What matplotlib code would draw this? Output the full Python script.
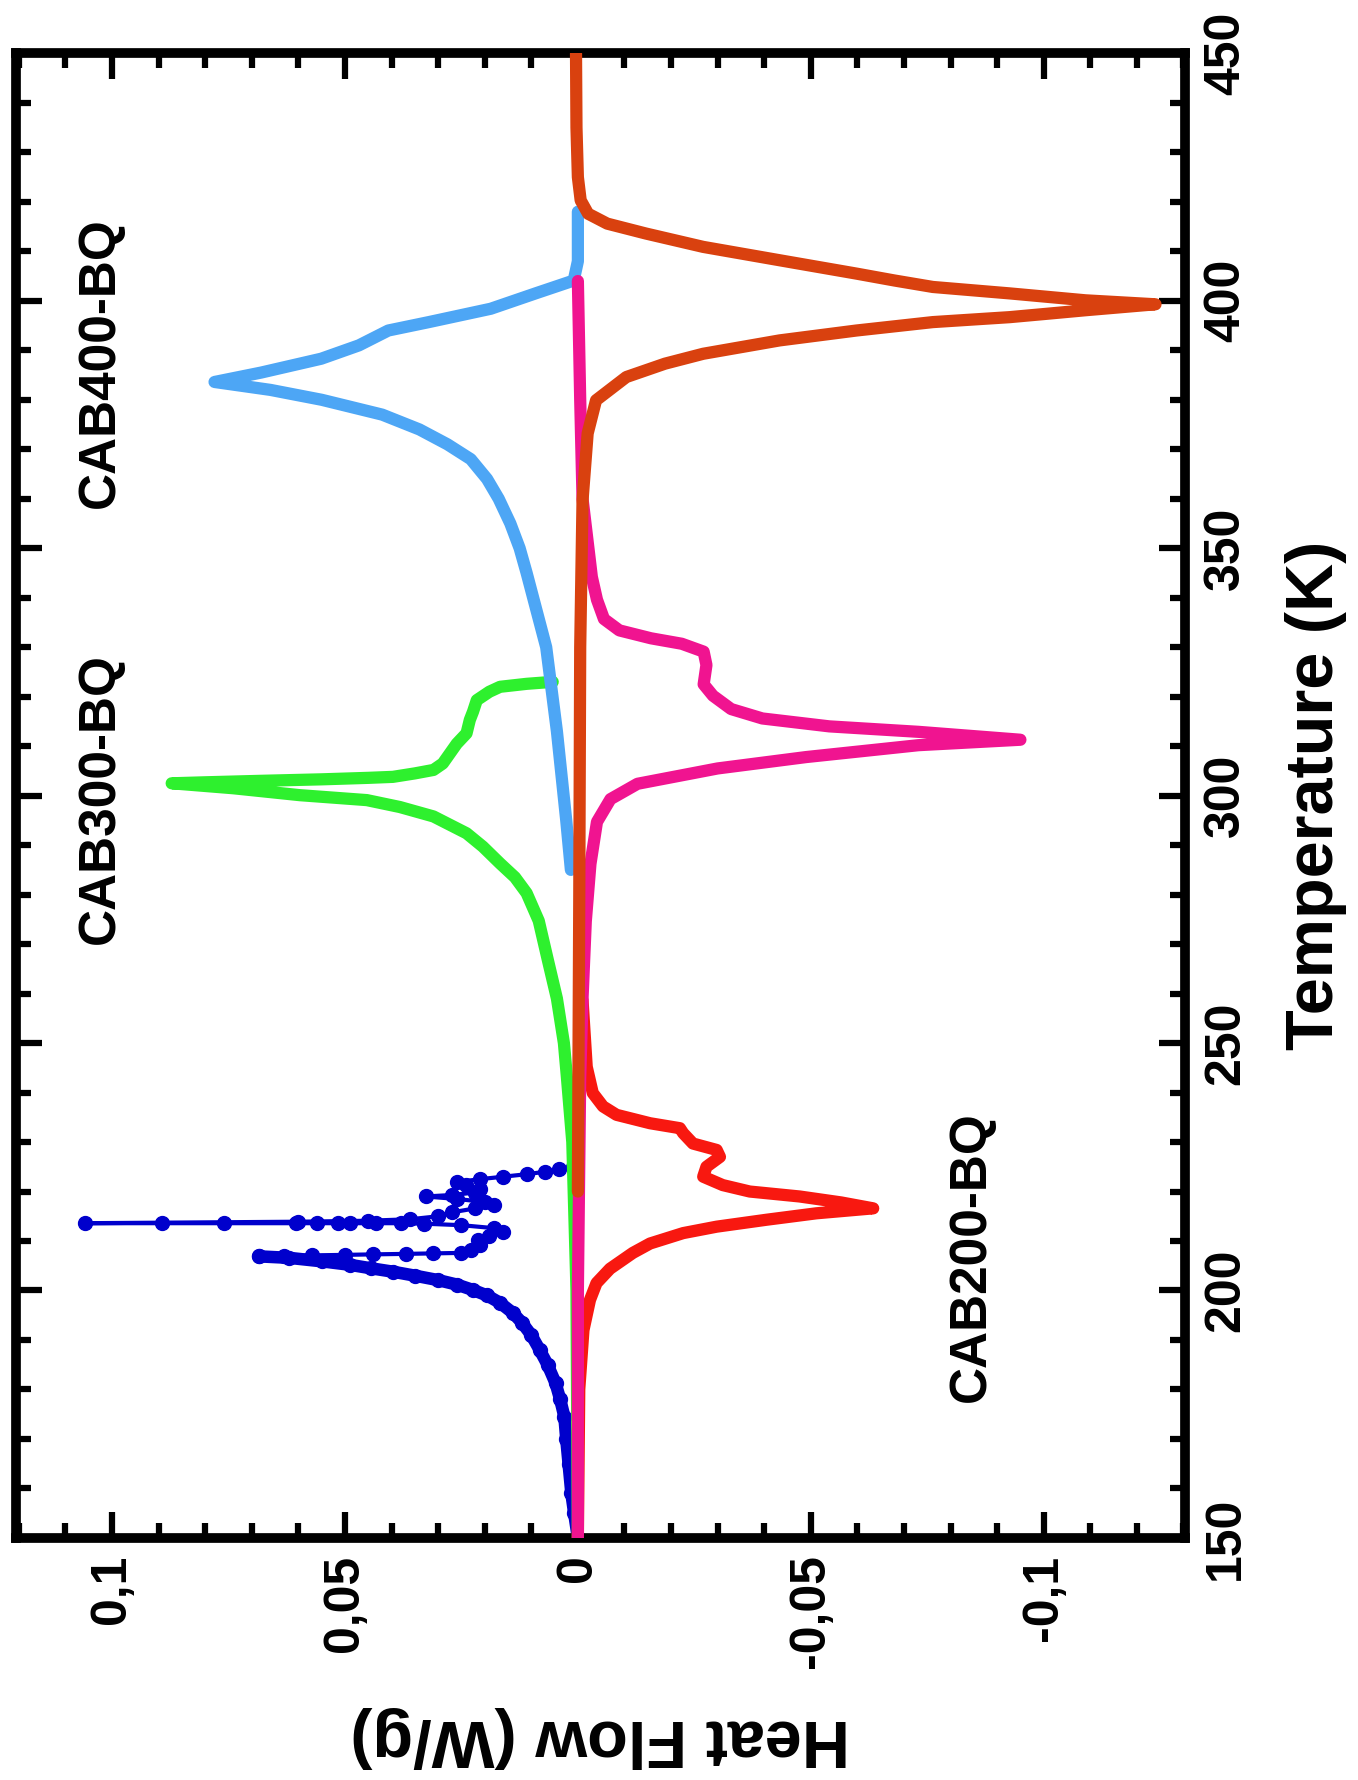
"""
DSC curves (heat flow vs temperature), drawn rotated like the original figure.
"""
import matplotlib

matplotlib.use("Agg")
import matplotlib.pyplot as plt
from matplotlib.ticker import MultipleLocator

plt.rcParams["font.family"] = ["Liberation Sans", "DejaVu Sans"]
plt.rcParams["font.weight"] = "bold"

# CAB200-BQ, heating (blue, smooth rise)
blue_rise_t = [150, 155, 159, 165, 170, 174.5, 178, 181.3, 185, 188, 191, 193.5,
               195.5, 197.5, 199, 200.1, 201.2, 202.1, 203, 203.8, 204.5, 205.2,
               205.9, 206.6, 206.9]
blue_rise_hf = [0.0, 0.0008, 0.0014, 0.002, 0.0025, 0.0029, 0.0038, 0.0048, 0.0065,
                0.0082, 0.010, 0.012, 0.014, 0.0167, 0.0195, 0.0225, 0.026, 0.030,
                0.035, 0.0397, 0.0445, 0.049, 0.055, 0.062, 0.0685]
# CAB200-BQ, heating (blue, noisy transition region)
blue_noise_t = [206.9, 207.0, 207.1, 207.2, 207.3, 207.4, 207.5, 207.6, 208.2, 209.2,
                210.2, 211.0, 211.8, 212.6, 213.2, 213.5, 213.6, 213.6, 213.6, 213.6,
                213.6, 213.6, 213.6, 213.6, 213.6, 213.9, 214.1, 214.4, 215.0, 215.8,
                216.6, 217.3, 217.9, 218.5, 219.0, 219.3, 219.8, 220.5, 221.3, 221.9,
                222.5, 223.0, 223.5, 224.0, 224.5, 225.0]
blue_noise_hf = [0.0685, 0.063, 0.057, 0.050, 0.044, 0.037, 0.031, 0.025, 0.023, 0.021,
                 0.0215, 0.019, 0.016, 0.018, 0.025, 0.033, 0.038, 0.0433, 0.049, 0.0516,
                 0.056, 0.0606, 0.076, 0.0893, 0.1058, 0.060, 0.045, 0.036, 0.030, 0.027,
                 0.022, 0.018, 0.020, 0.026, 0.0327, 0.027, 0.022, 0.021, 0.024, 0.026,
                 0.021, 0.016, 0.011, 0.007, 0.004, 0.0011]

# CAB200-BQ, cooling (red)
red_t = [150, 180, 192, 198.1, 201.5, 204.4, 207.6, 209.5, 211.6, 212.9, 214.3, 215.6,
         216.6, 217.8, 219, 220, 221.3, 223, 225, 227, 228.4, 229.7, 231.8, 232.8,
         233.8, 235.5, 237.2, 239.9, 245.2, 258.7]
red_hf = [0.0, -0.0003, -0.0012, -0.0026, -0.004, -0.0069, -0.0118, -0.0155, -0.0226,
          -0.0298, -0.0405, -0.0512, -0.0634, -0.0565, -0.0476, -0.0369, -0.0311,
          -0.0269, -0.0276, -0.0305, -0.0298, -0.0247, -0.0226, -0.0219, -0.0155,
          -0.0083, -0.0054, -0.0032, -0.0019, -0.001]

# CAB300-BQ, heating (green)
green_t = [150, 200, 230, 243.6, 250, 259, 267, 274.7, 280.3, 283.5, 286.3, 289.7,
           292.4, 295.8, 297.7, 299.1, 300.1, 301.5, 302.5, 302.7, 303.0, 303.3,
           303.6, 303.8, 304.5, 305.2, 306.5, 308.5, 310.5, 312.6, 315.3, 317, 319.3,
           321, 322, 322.6, 323]
green_hf = [0.0, 0.0003, 0.0012, 0.0024, 0.003, 0.0045, 0.0065, 0.0084, 0.011, 0.0135,
            0.0167, 0.0204, 0.0239, 0.031, 0.0382, 0.0453, 0.0597, 0.074, 0.0872, 0.080,
            0.068, 0.055, 0.045, 0.0397, 0.035, 0.031, 0.029, 0.0275, 0.026, 0.0239,
            0.0232, 0.0225, 0.0217, 0.019, 0.0167, 0.011, 0.0054]

# CAB300-BQ, cooling (pink)
pink_t = [150, 200, 243, 259, 274.6, 286.2, 294.7, 299.3, 302.4, 305.5, 307.8, 310.2,
          311.3, 312.9, 314, 315.6, 317.5, 320.2, 322.5, 326.4, 329.1, 330.7, 331.8,
          333.4, 335.7, 339.6, 344.2, 360, 380, 404]
pink_hf = [0.0, 0.0, -0.0005, -0.001, -0.0017, -0.0027, -0.0041, -0.007, -0.0128,
           -0.030, -0.049, -0.0731, -0.095, -0.0731, -0.054, -0.0396, -0.0329, -0.029,
           -0.027, -0.0276, -0.027, -0.0223, -0.0157, -0.0089, -0.0056, -0.0041,
           -0.003, -0.001, -0.0005, 0.0]

# CAB400-BQ, heating (light blue)
lblue_t = [285, 295, 313, 330, 345, 350, 355, 360, 364, 368, 371, 374, 377, 380, 382,
           383.6, 385.5, 388.3, 391, 394, 395.7, 398.4, 401.5, 404.1, 408, 418]
lblue_hf = [0.0015, 0.0025, 0.0045, 0.0068, 0.011, 0.0125, 0.0145, 0.017, 0.0195,
            0.023, 0.028, 0.034, 0.042, 0.055, 0.066, 0.078, 0.068, 0.0551, 0.047,
            0.0407, 0.032, 0.0187, 0.0091, 0.0009, 0.0, 0.0]

# CAB400-BQ, cooling (brown-orange)
brown_t = [450, 435, 425, 420.3, 417.6, 415.6, 413.6, 410.9, 408.2, 405.5, 404.1,
           402.8, 401.5, 400.1, 399.3, 398.1, 397.4, 396.7, 395.7, 394, 392, 389.3,
           387.3, 384.6, 379.9, 373.2, 359.7, 330, 280, 220]
brown_hf = [0.0004, 0.0003, 0.0, -0.0006, -0.0022, -0.0063, -0.0146, -0.0269, -0.0433,
            -0.0598, -0.068, -0.0762, -0.0927, -0.109, -0.124, -0.109, -0.1009,
            -0.0927, -0.0762, -0.0598, -0.0433, -0.0269, -0.0187, -0.0104, -0.0039,
            -0.0021, -0.001, -0.0005, -0.0003, 0.0]

hf_ticks = [0.1, 0.05, 0, -0.05, -0.1]
hf_tick_labels = ["0,1", "0,05", "0", "-0,05", "-0,1"]
t_ticks = [150, 200, 250, 300, 350, 400, 450]

sample_labels = ["CAB400-BQ", "CAB300-BQ", "CAB200-BQ"]
sample_label_hf = [0.1026, 0.1026, -0.0844]
sample_label_t = [387.5, 299.4, 206.8]

fig = plt.figure(figsize=(13.58, 17.8), dpi=100)
ax = fig.add_axes([0.0115, 0.136, 0.861, 0.834])

lw = 8.8
common = dict(solid_capstyle="round", solid_joinstyle="round")

ax.plot(blue_rise_hf, blue_rise_t, color="#0000cc", lw=9, marker="o", ms=10, **common, zorder=2)
ax.plot(blue_noise_hf, blue_noise_t, color="#0000cc", lw=3, marker="o", ms=10, **common, zorder=2)
ax.plot(green_hf, green_t, color="#2ef02e", lw=lw, **common, zorder=3)
ax.plot(red_hf, red_t, color="#f81810", lw=lw, **common, zorder=4)
ax.plot(lblue_hf, lblue_t, color="#4da6f5", lw=lw, **common, zorder=5)
ax.plot(pink_hf, pink_t, color="#f01490", lw=lw, **common, zorder=6)
ax.plot(brown_hf, brown_t, color="#d9410f", lw=lw, **common, zorder=7)

for text, hf, t in zip(sample_labels, sample_label_hf, sample_label_t):
    ax.text(hf, t, text, rotation=90, ha="center", va="center",
            fontsize=37, fontweight="bold", zorder=8)

ax.set_xlim(0.1207, -0.1303)
ax.set_ylim(150, 450)

ax.set_xticks(hf_ticks)
ax.set_xticklabels(hf_tick_labels, rotation=90)
ax.xaxis.set_minor_locator(MultipleLocator(0.01))
ax.set_yticks(t_ticks)
ax.set_yticklabels([str(t) for t in t_ticks], rotation=90, va="center")
ax.yaxis.set_minor_locator(MultipleLocator(10))

ax.yaxis.tick_right()
ax.tick_params(which="both", direction="in", top=True, bottom=True, left=True,
               right=True, labelleft=False, labelright=True, width=4.5)
ax.tick_params(which="major", length=19, labelsize=36)
ax.tick_params(which="minor", length=11)
ax.tick_params(axis="x", which="major", pad=12)
ax.tick_params(axis="y", which="major", pad=13)

for spine in ax.spines.values():
    spine.set_linewidth(7)

ax.set_xlabel("Heat Flow (W/g)", fontsize=48, fontweight="bold", rotation=180)
ax.xaxis.label.set_va("center")
ax.xaxis.set_label_coords(0.5, -0.134)
ax.yaxis.set_label_position("right")
ax.set_ylabel("Temperature (K)", fontsize=48, fontweight="bold", rotation=90)
ax.yaxis.label.set_va("center")
ax.yaxis.set_label_coords(1.1125, 0.5)

fig.savefig("out.png", dpi=100, facecolor="white")
plt.close(fig)
